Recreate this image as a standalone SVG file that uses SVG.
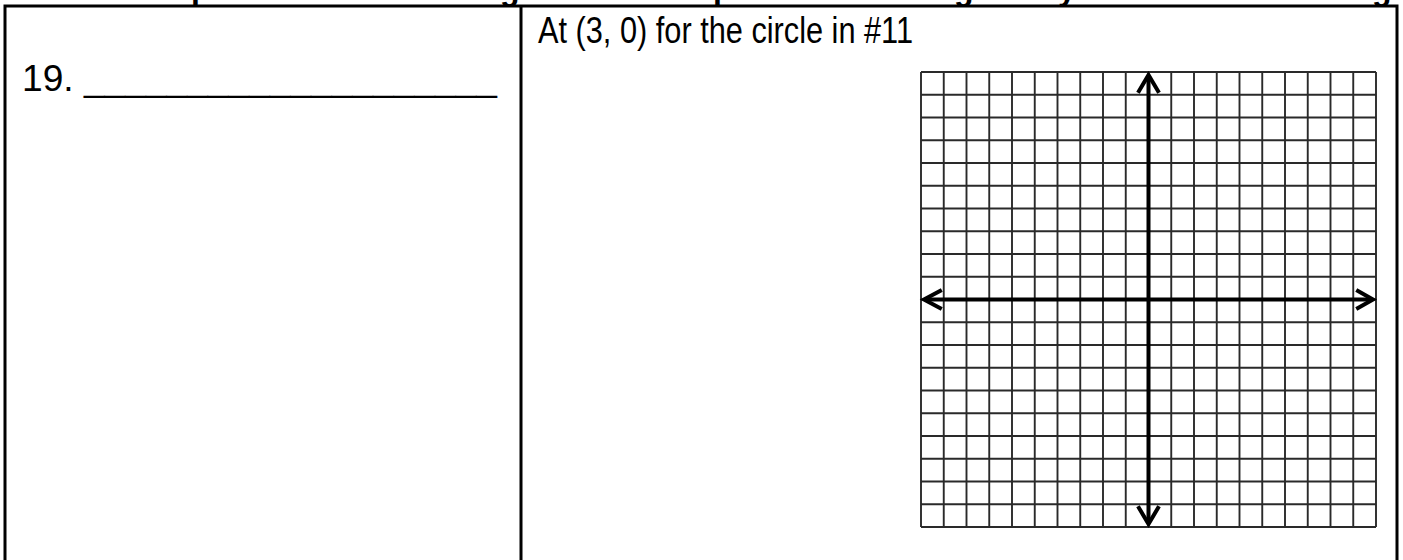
<svg xmlns="http://www.w3.org/2000/svg" width="1403" height="560" viewBox="0 0 1403 560">
<style>
.bold{font-family:"Liberation Sans",Arial,sans-serif;font-weight:bold;font-size:32px;fill:#000}
.txt{font-family:"Liberation Sans",Arial,sans-serif;font-size:36px;fill:#000}
.border{stroke:#000;stroke-width:3;fill:none}
.gridline{stroke:#2a2a2a;stroke-width:1.9;fill:none}
.axis{stroke:#000;stroke-width:4;fill:none}
.head{stroke:#000;stroke-width:4;fill:none;stroke-linecap:square;stroke-linejoin:miter}
</style>
<rect width="1403" height="560" fill="#fff"/>
<g id="header-fragments">
<text class="bold" x="191" y="0">p</text>
<text class="bold" x="500" y="0">g</text>
<text class="bold" x="713" y="0">p</text>
<text class="bold" x="954" y="0">g</text>
<text class="bold" x="1058" y="0">y</text>
<text class="bold" x="1372" y="0">g</text>
</g>
<g id="table">
<path class="border" d="M5,562 V6 H1397 V562 M521,6 V562"/>
</g>
<g id="label-19">
<text class="txt" x="22" y="91" textLength="475" lengthAdjust="spacingAndGlyphs">19. ____________________</text>
</g>
<g id="label-at">
<text class="txt" x="538" y="43" textLength="375" lengthAdjust="spacingAndGlyphs">At (3, 0) for the circle in #11</text>
</g>
<g id="grid">
<path class="gridline" d="M921,72 V527 M943.75,72 V527 M966.5,72 V527 M989.25,72 V527 M1012,72 V527 M1034.75,72 V527 M1057.5,72 V527 M1080.25,72 V527 M1103,72 V527 M1125.75,72 V527 M1148.5,72 V527 M1171.25,72 V527 M1194,72 V527 M1216.75,72 V527 M1239.5,72 V527 M1262.25,72 V527 M1285,72 V527 M1307.75,72 V527 M1330.5,72 V527 M1353.25,72 V527 M1376,72 V527
M921,72 H1376 M921,94.75 H1376 M921,117.5 H1376 M921,140.25 H1376 M921,163 H1376 M921,185.75 H1376 M921,208.5 H1376 M921,231.25 H1376 M921,254 H1376 M921,276.75 H1376 M921,299.5 H1376 M921,322.25 H1376 M921,345 H1376 M921,367.75 H1376 M921,390.5 H1376 M921,413.25 H1376 M921,436 H1376 M921,458.75 H1376 M921,481.5 H1376 M921,504.25 H1376 M921,527 H1376"/>
</g>
<g id="connectors">
<path class="axis" d="M1148.5,76 V523"/>
<path class="axis" d="M925,299.5 H1372"/>
<polyline class="head" points="1139,91 1148.5,75 1158,91"/>
<polyline class="head" points="1139,508 1148.5,524 1158,508"/>
<polyline class="head" points="1358,291 1373,299.5 1358,308"/>
<polyline class="head" points="940,291 924,299.5 940,308"/>
</g>
</svg>
